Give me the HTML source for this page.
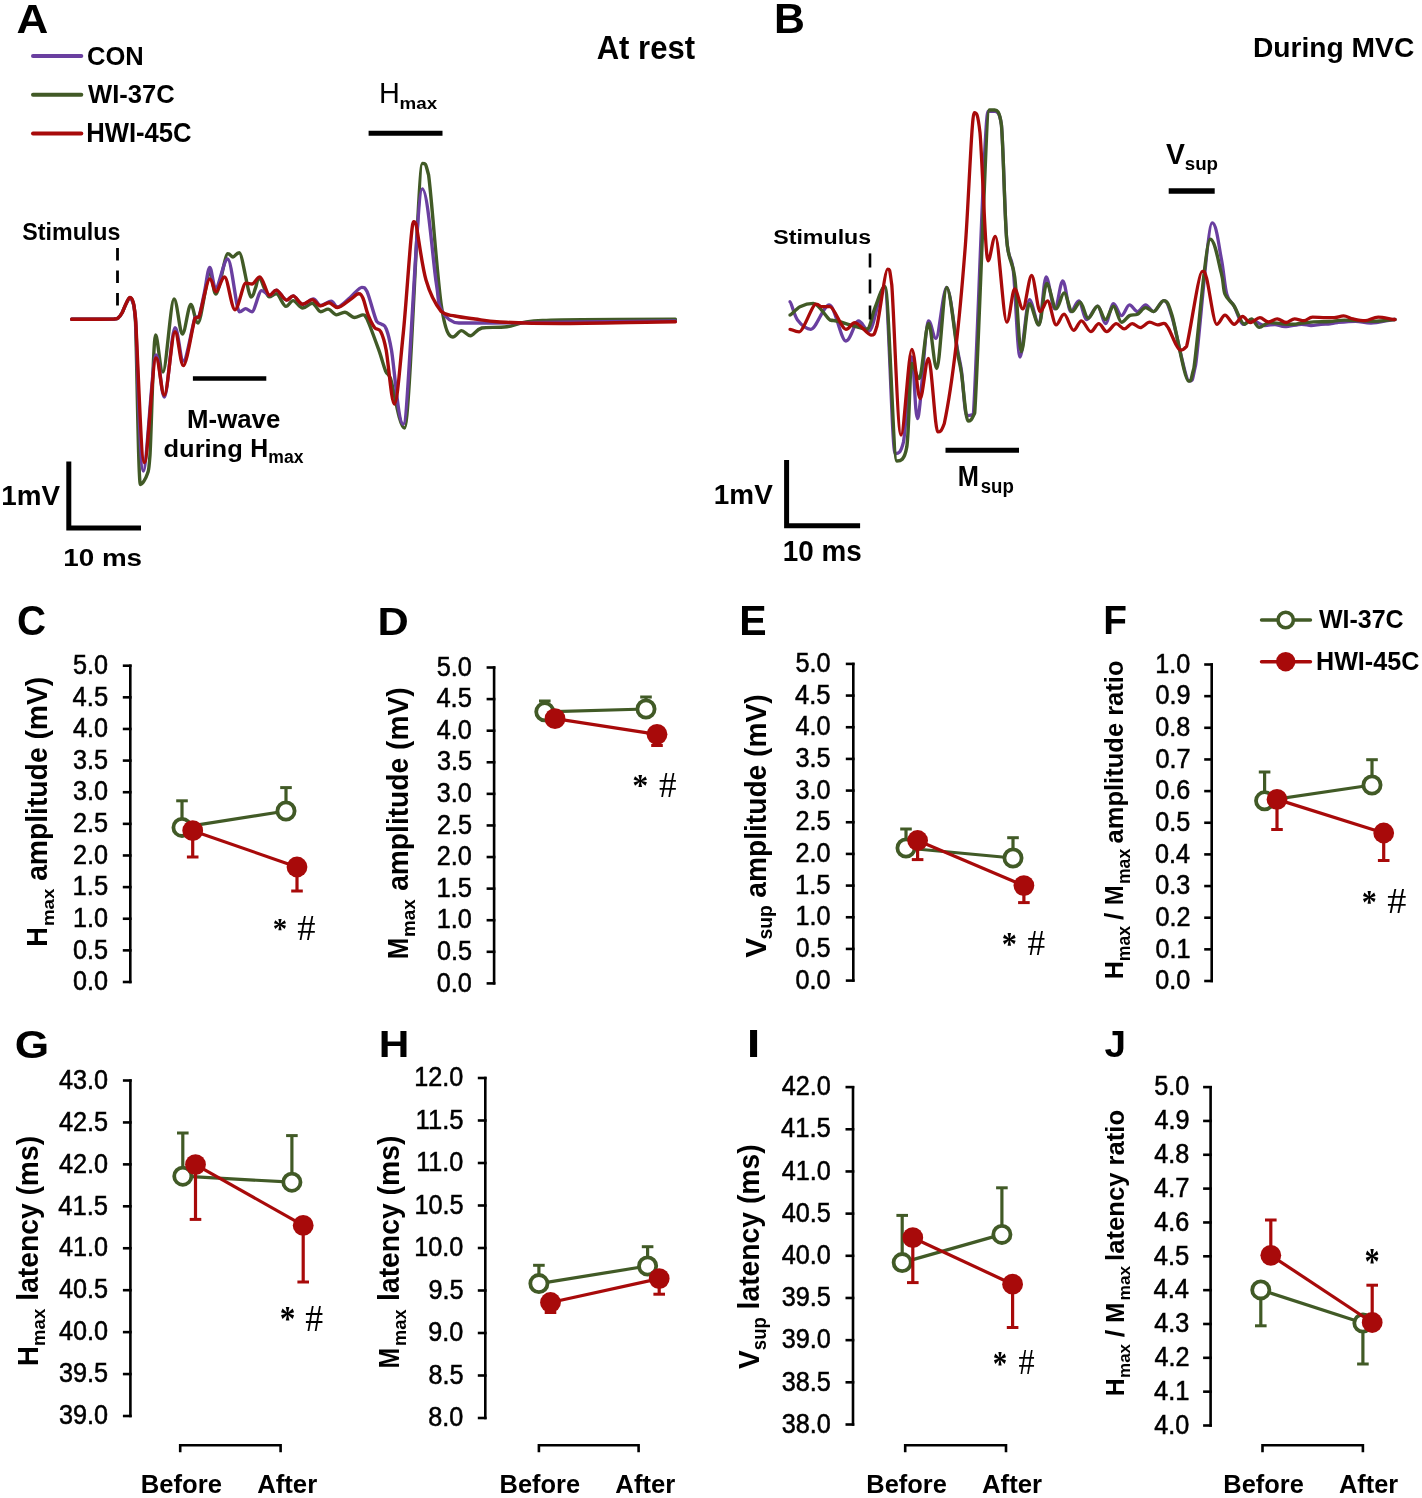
<!DOCTYPE html>
<html><head><meta charset="utf-8"><style>
html,body{margin:0;padding:0;background:#fff;}
svg{display:block;filter:blur(0.45px);}
</style></head><body>
<svg width="1422" height="1498" viewBox="0 0 1422 1498">
<rect width="1422" height="1498" fill="#fff"/>
<path d="M71.6,319.2 C78.7,319.2 106.2,319.2 114.0,319.0 C118.5,318.7 117.2,318.5 118.5,317.5 C119.8,316.5 120.8,315.1 122.0,313.0 C123.2,310.9 124.2,307.5 125.5,305.0 C126.8,302.5 128.5,298.0 129.7,298.0 C130.9,298.0 131.8,298.0 132.8,302.0 C133.8,306.0 134.2,302.0 135.5,322.0 C136.8,352.4 138.4,484.5 140.4,484.5 C142.4,484.5 145.8,478.6 147.4,473.7 C149.0,468.8 148.6,473.7 150.0,455.0 C151.4,431.9 153.4,335.0 155.6,335.0 C157.8,335.0 159.9,372.0 163.0,372.0 C166.1,372.0 170.8,299.0 174.0,299.0 C177.2,299.0 179.6,334.0 182.4,334.0 C185.2,334.0 188.2,304.4 190.8,304.4 C193.4,304.4 194.8,323.0 198.0,323.0 C201.2,323.0 206.8,273.8 209.8,273.8 C212.8,273.8 213.0,294.0 216.0,294.0 C219.0,294.0 224.9,253.8 227.7,253.8 C230.5,253.8 231.1,257.0 233.0,257.0 C234.9,257.0 236.3,252.7 239.3,252.7 C242.3,252.7 248.3,297.0 251.0,297.0 C253.7,297.0 254.1,291.2 255.5,288.0 C256.9,284.8 257.1,278.0 259.4,278.0 C261.6,278.0 266.2,296.9 269.0,296.9 C271.8,296.9 273.6,293.8 276.4,293.8 C279.2,293.8 283.1,306.4 285.9,306.4 C288.7,306.4 290.4,300.6 293.2,300.6 C296.0,300.6 299.5,308.0 302.7,308.0 C305.9,308.0 309.2,303.2 312.2,303.2 C315.2,303.2 318.0,311.7 320.7,311.7 C323.4,311.7 325.5,309.1 328.1,309.1 C330.7,309.1 333.7,314.9 336.5,314.9 C339.3,314.9 341.9,312.2 344.9,312.2 C347.9,312.2 351.4,317.5 354.4,317.5 C357.4,317.5 360.8,314.9 362.9,314.9 C365.0,314.9 364.5,314.9 367.1,319.1 C369.7,324.9 375.6,341.1 378.7,349.7 C381.8,358.3 383.6,366.2 385.6,371.0 C387.6,375.8 387.4,371.0 390.6,378.7 C393.8,388.2 399.3,428.0 404.6,428.0 C409.9,428.0 418.3,163.5 422.3,163.5 C426.3,163.5 425.4,163.5 428.6,175.0 C431.8,198.6 437.3,278.3 441.3,305.3 C445.3,332.3 449.3,337.0 452.7,337.0 C456.1,337.0 458.6,330.6 461.5,330.6 C464.4,330.6 467.0,335.7 470.4,335.7 C473.8,335.7 475.7,329.5 481.8,328.0 C487.9,326.8 496.9,328.0 507.0,326.8 C517.1,325.6 514.4,321.8 542.5,320.5 C570.6,319.2 653.2,319.2 675.4,319.2" fill="none" stroke="#415a26" stroke-width="3.4" stroke-linejoin="round" stroke-linecap="round"/>
<path d="M71.6,319.2 C78.7,319.2 106.2,319.2 114.0,319.0 C118.5,318.7 117.2,318.5 118.5,317.5 C119.8,316.5 120.8,315.1 122.0,313.0 C123.2,310.9 124.2,307.5 125.5,305.0 C126.8,302.5 128.5,298.0 129.7,298.0 C130.9,298.0 131.8,298.5 132.8,302.0 C133.8,305.5 133.8,302.0 135.5,319.0 C137.2,347.2 139.9,471.0 143.3,471.0 C146.7,471.0 152.5,355.0 156.0,355.0 C159.5,355.0 161.2,397.0 164.4,397.0 C167.6,397.0 171.8,327.6 175.0,327.6 C178.2,327.6 180.1,361.0 183.4,361.0 C186.7,361.0 192.4,324.9 195.0,317.5 C197.6,316.5 197.4,317.5 199.0,316.5 C200.6,312.2 202.7,300.2 204.5,292.0 C206.3,283.8 207.9,267.5 209.8,267.5 C211.7,267.5 213.0,287.5 216.0,287.5 C219.0,287.5 223.8,259.0 227.7,259.0 C231.6,259.0 236.3,311.8 239.3,311.8 C242.3,311.8 243.5,308.6 245.6,308.6 C247.7,308.6 249.3,311.8 252.0,311.8 C254.7,311.8 258.7,290.6 261.6,290.6 C264.5,290.6 267.0,295.3 269.5,295.3 C272.0,295.3 273.6,290.1 276.4,290.1 C279.2,290.1 283.6,300.1 286.4,300.1 C289.2,300.1 290.5,295.9 293.2,295.9 C295.9,295.9 299.3,304.3 302.7,304.3 C306.1,304.3 310.3,299.0 313.3,299.0 C316.3,299.0 317.7,305.5 320.7,305.5 C323.7,305.5 328.4,301.1 331.2,301.1 C334.0,301.1 334.4,307.0 337.6,307.0 C340.8,307.0 346.2,300.8 350.2,297.5 C354.2,294.2 359.0,287.4 361.8,287.4 C364.6,287.4 364.6,287.4 367.1,291.6 C369.6,297.2 374.1,315.8 376.6,321.2 C379.1,324.3 380.3,323.1 381.9,324.3 C383.5,325.5 384.5,324.4 386.1,328.6 C387.7,332.8 388.5,333.8 391.4,349.7 C394.3,365.6 398.1,424.3 403.3,424.3 C408.5,424.3 416.8,188.9 422.3,188.9 C427.8,188.9 433.0,262.3 436.2,282.5 C439.4,302.7 437.5,303.2 441.3,310.0 C445.1,316.8 450.6,323.0 459.0,323.0 C467.4,323.0 459.0,323.0 492.0,323.0 C528.1,323.0 644.8,321.0 675.4,321.0" fill="none" stroke="#6a3fa0" stroke-width="3.4" stroke-linejoin="round" stroke-linecap="round"/>
<path d="M71.6,319.2 C78.7,319.2 106.2,319.2 114.0,319.0 C118.5,318.7 117.2,318.5 118.5,317.5 C119.8,316.5 120.8,315.1 122.0,313.0 C123.2,310.9 124.2,307.6 125.5,305.0 C126.8,302.4 128.5,297.4 129.7,297.4 C130.9,297.4 131.8,297.6 132.8,301.0 C133.8,304.4 133.6,301.0 135.5,318.0 C137.4,344.9 141.0,462.6 144.4,462.6 C147.8,462.6 152.7,358.0 156.0,358.0 C159.3,358.0 161.2,395.0 164.4,395.0 C167.6,395.0 171.8,331.8 175.0,331.8 C178.2,331.8 180.1,365.6 183.4,365.6 C186.7,365.6 192.4,326.1 195.0,318.0 C197.6,317.0 196.5,318.0 199.0,317.0 C201.5,310.5 207.0,279.0 209.8,279.0 C212.6,279.0 213.5,291.7 216.0,291.7 C218.5,291.7 221.4,277.0 224.6,277.0 C227.8,277.0 231.5,309.7 235.0,309.7 C238.5,309.7 242.8,283.3 245.6,283.3 C248.4,283.3 249.6,284.0 252.0,284.0 C254.4,284.0 257.1,276.9 260.0,276.9 C262.9,276.9 266.8,295.3 269.5,295.3 C272.2,295.3 273.6,290.1 276.4,290.1 C279.2,290.1 283.6,300.1 286.4,300.1 C289.2,300.1 290.5,295.9 293.2,295.9 C295.9,295.9 299.5,304.3 302.7,304.3 C305.9,304.3 309.2,299.6 312.2,299.6 C315.2,299.6 317.9,305.9 320.7,305.9 C323.5,305.9 326.3,302.7 329.1,302.7 C331.9,302.7 334.1,307.5 337.6,307.5 C341.1,307.5 346.7,301.9 350.2,299.6 C353.7,297.3 356.5,293.8 358.6,293.8 C360.7,293.8 361.3,294.5 362.9,298.0 C364.5,301.5 366.2,310.0 368.1,314.9 C370.0,319.8 372.4,324.7 374.5,327.5 C376.6,330.3 378.9,328.0 380.8,331.7 C382.7,335.4 383.8,337.6 386.1,349.7 C388.4,361.8 391.5,404.0 394.4,404.0 C397.3,404.0 400.1,363.4 403.3,333.0 C406.5,302.6 411.3,221.8 413.4,221.8 C415.5,221.8 413.9,221.8 416.0,224.0 C418.1,233.7 421.8,265.4 426.0,280.0 C430.2,294.6 436.5,305.6 441.3,311.6 C446.1,316.0 449.4,314.8 455.0,316.0 C460.6,317.2 467.5,318.0 475.0,319.0 C482.5,320.0 485.8,321.2 500.0,322.0 C514.2,322.8 530.8,323.5 560.0,323.5 C589.2,323.5 656.2,321.8 675.4,321.8" fill="none" stroke="#a80a0a" stroke-width="3.4" stroke-linejoin="round" stroke-linecap="round"/>
<path d="M790.0,301.7 C791.2,301.7 794.0,315.4 797.5,320.0 C801.0,324.6 805.6,329.3 810.9,329.3 C816.2,329.3 823.4,305.0 829.2,305.0 C835.0,305.0 841.0,341.0 845.9,341.0 C850.8,341.0 854.5,321.0 858.4,321.0 C862.3,321.0 865.0,331.0 869.3,331.0 C873.6,331.0 880.0,286.7 884.3,286.7 C888.6,286.7 891.9,453.6 895.1,453.6 C898.3,453.6 900.7,453.6 903.5,441.9 C906.3,425.8 909.4,356.8 911.8,356.8 C914.1,356.8 914.8,418.5 917.6,418.5 C920.4,418.5 925.4,321.0 928.5,321.0 C931.6,321.0 933.0,338.4 936.0,338.4 C939.0,338.4 943.1,287.5 946.7,287.5 C950.3,287.5 955.0,335.2 957.4,349.0 C959.8,362.8 959.8,359.2 961.4,370.3 C963.0,381.4 964.7,415.7 966.7,415.7 C968.7,415.7 969.9,415.7 973.4,414.3 C976.9,363.6 984.5,111.4 988.0,111.4 C991.5,111.4 992.5,111.4 994.7,111.4 C996.9,111.4 999.4,111.4 1001.4,124.7 C1003.4,146.1 1004.7,215.0 1006.7,239.5 C1008.7,264.0 1011.2,251.9 1013.4,271.5 C1015.6,291.1 1017.4,357.0 1020.1,357.0 C1022.8,357.0 1026.3,299.6 1029.4,299.6 C1032.5,299.6 1036.0,324.9 1038.8,324.9 C1041.6,324.9 1043.5,276.9 1046.2,276.9 C1048.9,276.9 1052.0,308.9 1054.8,308.9 C1057.6,308.9 1060.1,280.9 1062.8,280.9 C1065.5,280.9 1068.1,311.6 1070.8,311.6 C1073.5,311.6 1076.1,300.9 1078.8,300.9 C1081.5,300.9 1083.7,319.6 1086.8,319.6 C1089.9,319.6 1094.4,306.2 1097.5,306.2 C1100.6,306.2 1102.8,323.6 1105.5,323.6 C1108.2,323.6 1110.8,303.6 1113.5,303.6 C1116.2,303.6 1118.8,315.6 1121.5,315.6 C1124.2,315.6 1126.8,304.9 1129.5,304.9 C1132.2,304.9 1134.8,311.6 1137.5,311.6 C1140.2,311.6 1142.9,304.9 1145.6,304.9 C1148.3,304.9 1150.6,311.6 1153.6,311.6 C1156.6,311.6 1160.6,300.6 1163.7,300.6 C1166.8,300.6 1167.7,303.6 1172.0,317.0 C1176.3,330.4 1185.3,381.0 1189.3,381.0 C1193.2,381.0 1191.9,381.0 1195.7,364.6 C1199.5,338.2 1207.9,222.9 1212.2,222.9 C1216.5,222.9 1218.9,246.6 1221.3,258.5 C1223.7,270.4 1224.7,286.3 1226.8,294.2 C1228.9,302.1 1231.3,301.0 1234.1,306.0 C1236.8,311.0 1240.4,324.3 1243.3,324.3 C1246.2,324.3 1247.9,319.8 1251.5,319.8 C1255.1,319.8 1260.8,325.5 1264.7,325.5 C1268.6,325.5 1271.6,324.5 1275.0,324.5 C1278.4,324.5 1280.5,326.7 1285.0,326.7 C1289.5,326.7 1297.4,324.3 1301.7,324.3 C1306.0,324.3 1307.8,325.5 1311.0,325.5 C1314.2,325.5 1317.7,324.6 1320.9,324.3 C1324.1,324.0 1327.2,324.1 1330.0,323.8 C1332.8,323.5 1333.3,322.9 1337.6,322.5 C1341.8,322.1 1349.9,321.3 1355.5,321.3 C1361.1,321.3 1364.4,323.1 1371.0,323.1 C1377.6,323.1 1391.0,319.5 1395.0,319.5" fill="none" stroke="#6a3fa0" stroke-width="3.3" stroke-linejoin="round" stroke-linecap="round"/>
<path d="M790.0,315.0 C791.7,315.0 796.1,308.6 800.0,306.7 C803.9,304.8 808.4,303.4 813.4,303.4 C818.4,303.4 826.1,317.1 830.0,320.0 C833.9,321.0 832.7,320.0 836.7,321.0 C840.7,322.0 849.2,324.6 854.2,326.0 C859.2,327.4 863.3,329.3 866.8,329.3 C870.3,329.3 872.0,314.7 875.0,307.6 C878.0,300.5 881.5,286.7 885.1,286.7 C888.7,286.7 893.2,461.0 896.8,461.0 C900.4,461.0 904.3,461.0 906.8,446.9 C909.3,430.6 909.7,363.5 911.8,363.5 C913.9,363.5 916.5,378.5 919.3,378.5 C922.1,378.5 925.6,323.4 928.5,323.4 C931.4,323.4 933.8,368.5 936.8,368.5 C939.8,368.5 943.3,287.5 946.7,287.5 C950.1,287.5 955.0,337.4 957.4,351.6 C959.8,365.9 959.6,361.4 961.4,373.0 C963.2,384.6 965.8,421.0 968.0,421.0 C970.2,421.0 971.1,421.0 974.7,413.0 C978.3,361.2 986.1,110.0 989.4,110.0 C992.7,110.0 992.7,110.0 994.7,110.0 C996.7,110.0 999.4,110.0 1001.4,124.7 C1003.4,146.3 1004.5,214.1 1006.7,239.5 C1008.9,264.9 1012.2,258.2 1014.7,276.9 C1017.2,295.6 1018.9,351.6 1021.4,351.6 C1023.9,351.6 1026.5,303.6 1029.4,303.6 C1032.3,303.6 1035.9,324.9 1038.8,324.9 C1041.7,324.9 1043.9,283.5 1046.8,283.5 C1049.7,283.5 1053.2,308.9 1056.1,308.9 C1059.0,308.9 1061.4,292.9 1064.1,292.9 C1066.8,292.9 1069.4,311.6 1072.1,311.6 C1074.8,311.6 1077.4,302.2 1080.1,302.2 C1082.8,302.2 1085.3,318.2 1088.2,318.2 C1091.1,318.2 1094.6,306.2 1097.5,306.2 C1100.4,306.2 1102.8,319.6 1105.5,319.6 C1108.2,319.6 1110.8,306.2 1113.5,306.2 C1116.2,306.2 1118.8,322.2 1121.5,322.2 C1124.2,322.2 1126.8,316.9 1129.5,315.6 C1132.2,314.3 1134.8,315.5 1137.5,314.2 C1140.2,312.9 1142.9,307.6 1145.6,307.6 C1148.3,307.6 1150.6,311.6 1153.6,311.6 C1156.6,311.6 1160.6,300.6 1163.7,300.6 C1166.8,300.6 1167.9,301.8 1172.0,315.2 C1176.1,328.6 1184.8,381.0 1188.4,381.0 C1192.1,381.0 1190.2,381.0 1193.9,368.2 C1197.6,344.6 1205.7,239.3 1210.3,239.3 C1214.9,239.3 1218.8,264.0 1221.3,273.1 C1223.8,282.2 1222.9,288.7 1225.0,294.2 C1227.1,299.7 1230.9,301.0 1234.1,306.0 C1237.3,311.0 1241.4,324.3 1244.3,324.3 C1247.2,324.3 1249.0,318.9 1251.5,318.9 C1254.0,318.9 1256.3,327.3 1259.3,327.3 C1262.3,327.3 1265.8,322.5 1269.5,322.5 C1273.2,322.5 1277.4,323.4 1281.4,323.7 C1285.4,324.0 1290.0,324.3 1293.4,324.3 C1296.8,324.3 1298.3,323.5 1301.7,323.1 C1305.1,322.7 1309.0,322.2 1313.7,321.9 C1318.4,321.6 1324.8,321.8 1330.0,321.5 C1335.2,321.2 1337.5,320.1 1344.8,320.1 C1352.0,320.1 1365.1,321.3 1373.5,321.3 C1381.9,321.3 1391.4,319.5 1395.0,319.5" fill="none" stroke="#415a26" stroke-width="3.4" stroke-linejoin="round" stroke-linecap="round"/>
<path d="M790.0,329.3 C791.5,329.3 794.9,331.8 799.2,331.8 C803.5,331.8 812.1,304.2 815.9,304.2 C819.6,304.2 819.4,306.7 821.7,306.7 C824.1,306.7 826.0,306.7 830.0,306.7 C834.0,306.7 841.7,329.3 845.9,329.3 C850.1,329.3 850.8,322.6 855.0,322.6 C859.2,322.6 867.4,335.1 871.0,335.1 C874.6,335.1 874.0,335.1 876.8,326.8 C879.6,315.8 885.1,269.2 887.6,269.2 C890.1,269.2 889.6,269.2 891.8,285.0 C894.0,312.7 897.7,435.2 901.0,435.2 C904.3,435.2 908.6,349.3 911.8,349.3 C915.0,349.3 917.3,398.5 920.1,398.5 C922.9,398.5 925.6,358.5 928.5,358.5 C931.4,358.5 935.1,431.9 937.7,431.9 C940.3,431.9 941.2,431.9 944.3,423.5 C947.3,409.2 952.5,376.1 956.0,346.3 C959.5,316.5 962.4,283.7 965.4,244.8 C968.4,205.9 971.8,112.7 974.2,112.7 C976.6,112.7 977.7,112.7 980.0,132.7 C982.3,157.4 985.4,260.8 988.0,260.8 C990.6,260.8 992.4,236.3 995.5,236.3 C998.6,236.3 1003.5,322.2 1006.7,322.2 C1009.9,322.2 1012.0,288.9 1014.7,288.9 C1017.4,288.9 1020.0,308.9 1022.8,308.9 C1025.6,308.9 1028.7,275.5 1031.6,275.5 C1034.5,275.5 1037.4,311.6 1040.1,311.6 C1042.8,311.6 1044.9,300.9 1047.6,300.9 C1050.3,300.9 1053.3,324.9 1056.1,324.9 C1058.8,324.9 1061.2,314.2 1064.1,314.2 C1067.0,314.2 1070.6,330.3 1073.5,330.3 C1076.4,330.3 1078.6,320.9 1081.5,320.9 C1084.4,320.9 1087.9,331.6 1090.8,331.6 C1093.7,331.6 1096.1,323.6 1098.8,323.6 C1101.5,323.6 1103.9,331.6 1106.8,331.6 C1109.7,331.6 1113.3,323.6 1116.2,323.6 C1119.1,323.6 1121.5,328.9 1124.2,328.9 C1126.9,328.9 1129.5,323.6 1132.2,323.6 C1134.9,323.6 1137.3,327.6 1140.2,327.6 C1143.1,327.6 1146.7,322.2 1149.6,322.2 C1152.5,322.2 1155.2,324.9 1157.6,324.9 C1159.9,324.9 1161.9,323.4 1163.7,323.4 C1165.5,323.4 1165.5,323.6 1168.3,328.0 C1171.0,332.4 1177.2,350.0 1180.2,350.0 C1183.2,350.0 1182.9,350.0 1186.6,346.3 C1190.2,333.2 1198.8,271.3 1202.1,271.3 C1205.4,271.3 1204.3,271.3 1206.7,278.6 C1209.1,287.4 1213.7,324.3 1216.7,324.3 C1219.8,324.3 1222.1,315.2 1225.0,315.2 C1227.9,315.2 1231.3,324.3 1234.2,324.3 C1237.1,324.3 1239.9,316.5 1242.6,316.5 C1245.3,316.5 1247.4,322.5 1250.3,322.5 C1253.2,322.5 1256.9,317.7 1259.9,317.7 C1262.9,317.7 1265.4,321.9 1268.3,321.9 C1271.2,321.9 1274.2,318.9 1277.2,318.9 C1280.2,318.9 1283.3,322.5 1286.2,322.5 C1289.1,322.5 1291.6,318.9 1294.6,318.9 C1297.6,318.9 1301.1,320.7 1304.1,320.7 C1307.1,320.7 1308.9,317.1 1312.5,317.1 C1316.1,317.1 1322.0,317.7 1325.6,317.7 C1329.2,317.7 1331.0,317.7 1334.0,317.7 C1337.0,317.7 1340.4,315.9 1343.6,315.9 C1346.8,315.9 1349.5,318.1 1353.1,318.9 C1356.7,319.7 1360.9,320.7 1365.1,320.7 C1369.3,320.7 1373.2,317.1 1378.2,317.1 C1383.2,317.1 1392.2,319.5 1395.0,319.5" fill="none" stroke="#a80a0a" stroke-width="3.3" stroke-linejoin="round" stroke-linecap="round"/>
<text transform="translate(16.40,33.00) scale(1.0811,1)" font-family="Liberation Sans" font-size="40.73" font-weight="bold" fill="#000">A</text>
<line x1="33" y1="56" x2="81.3" y2="56" stroke="#6a3fa0" stroke-width="4" stroke-linecap="round" />
<line x1="33" y1="94.7" x2="81.3" y2="94.7" stroke="#415a26" stroke-width="4" stroke-linecap="round" />
<line x1="33" y1="133.4" x2="81.3" y2="133.4" stroke="#a80a0a" stroke-width="4" stroke-linecap="round" />
<text transform="translate(86.98,64.50) scale(0.9626,1)" font-family="Liberation Sans" font-size="26.52" font-weight="bold" fill="#000">CON</text>
<text transform="translate(88.00,102.50) scale(0.9643,1)" font-family="Liberation Sans" font-size="26.52" font-weight="bold" fill="#000">WI-37C</text>
<text transform="translate(86.27,142.00) scale(0.9412,1)" font-family="Liberation Sans" font-size="27.24" font-weight="bold" fill="#000">HWI-45C</text>
<text transform="translate(22.30,240.00) scale(0.9911,1)" font-family="Liberation Sans" font-size="23.45" font-weight="bold" fill="#000">Stimulus</text>
<line x1="117.5" y1="247.9" x2="117.5" y2="305.5" stroke="#000" stroke-width="2.8" stroke-dasharray="12.6,9.9"/>
<text transform="translate(596.72,58.60) scale(0.9564,1)" font-family="Liberation Sans" font-size="32.44" font-weight="bold" fill="#000">At rest</text>
<text transform="translate(379.12,102.60) scale(0.9638,1)" font-family="Liberation Sans" font-size="29.96" font-weight="normal" fill="#000">H</text>
<text transform="translate(399.58,108.80) scale(1.0854,1)" font-family="Liberation Sans" font-size="17.30" font-weight="bold" fill="#000">max</text>
<line x1="368.6" y1="133.2" x2="442.5" y2="133.2" stroke="#000" stroke-width="5" stroke-linecap="butt" />
<line x1="192.9" y1="378.6" x2="266.3" y2="378.6" stroke="#000" stroke-width="4.5" stroke-linecap="butt" />
<text transform="translate(187.06,427.60) scale(0.9859,1)" font-family="Liberation Sans" font-size="26.18" font-weight="bold" fill="#000">M-wave</text>
<text transform="translate(163.58,456.80) scale(1.0254,1)" font-family="Liberation Sans" font-size="24.83" font-weight="bold" fill="#000">during</text>
<text transform="translate(250.22,457.00) scale(0.9336,1)" font-family="Liberation Sans" font-size="26.62" font-weight="bold" fill="#000">H</text>
<text transform="translate(268.36,463.40) scale(0.9818,1)" font-family="Liberation Sans" font-size="17.86" font-weight="bold" fill="#000">max</text>
<path d="M68.8,461.5 V527.9 H141" fill="none" stroke="#000" stroke-width="5"/>
<text transform="translate(1.16,505.00) scale(1.0409,1)" font-family="Liberation Sans" font-size="26.76" font-weight="bold" fill="#000">1mV</text>
<text transform="translate(63.26,566.00) scale(1.1279,1)" font-family="Liberation Sans" font-size="24.66" font-weight="bold" fill="#000">10 ms</text>
<text transform="translate(774.01,32.70) scale(1.0179,1)" font-family="Liberation Sans" font-size="42.04" font-weight="bold" fill="#000">B</text>
<text transform="translate(1252.90,56.90) scale(1.0178,1)" font-family="Liberation Sans" font-size="27.72" font-weight="bold" fill="#000">During MVC</text>
<text transform="translate(773.20,244.40) scale(1.1061,1)" font-family="Liberation Sans" font-size="20.97" font-weight="bold" fill="#000">Stimulus</text>
<line x1="870" y1="253.4" x2="870" y2="321" stroke="#000" stroke-width="2.6" stroke-dasharray="14,12"/>
<text transform="translate(1166.09,163.50) scale(0.9508,1)" font-family="Liberation Sans" font-size="29.82" font-weight="bold" fill="#000">V</text>
<text transform="translate(1184.74,169.70) scale(1.0540,1)" font-family="Liberation Sans" font-size="17.78" font-weight="bold" fill="#000">sup</text>
<line x1="1168.7" y1="191" x2="1214.7" y2="191" stroke="#000" stroke-width="5.5" stroke-linecap="butt" />
<line x1="945.5" y1="450.3" x2="1019" y2="450.3" stroke="#000" stroke-width="5" stroke-linecap="butt" />
<text transform="translate(957.68,486.40) scale(0.8874,1)" font-family="Liberation Sans" font-size="28.65" font-weight="bold" fill="#000">M</text>
<text transform="translate(980.75,493.40) scale(0.9576,1)" font-family="Liberation Sans" font-size="19.44" font-weight="bold" fill="#000">sup</text>
<path d="M786.6,459.9 V525.8 H860.1" fill="none" stroke="#000" stroke-width="5"/>
<text transform="translate(713.86,504.30) scale(1.0045,1)" font-family="Liberation Sans" font-size="27.78" font-weight="bold" fill="#000">1mV</text>
<text transform="translate(782.76,561.30) scale(0.9569,1)" font-family="Liberation Sans" font-size="29.10" font-weight="bold" fill="#000">10 ms</text>
<text transform="translate(16.99,635.00) scale(0.9371,1)" font-family="Liberation Sans" font-size="43.01" font-weight="bold" fill="#000">C</text>
<line x1="130.3" y1="664.5" x2="130.3" y2="983.2" stroke="#000" stroke-width="2.6"/>
<line x1="122.80000000000001" y1="665.7" x2="131.60000000000002" y2="665.7" stroke="#000" stroke-width="2.6" stroke-linecap="butt" />
<text transform="translate(73.02,673.90) scale(0.9400,1)" font-family="Liberation Sans" font-size="26.81" font-weight="normal" fill="#000" stroke="#000" stroke-width="0.55">5.0</text>
<line x1="122.80000000000001" y1="697.33" x2="131.60000000000002" y2="697.33" stroke="#000" stroke-width="2.6" stroke-linecap="butt" />
<text transform="translate(72.58,705.53) scale(0.9400,1)" font-family="Liberation Sans" font-size="27.20" font-weight="normal" fill="#000" stroke="#000" stroke-width="0.55">4.5</text>
<line x1="122.80000000000001" y1="728.96" x2="131.60000000000002" y2="728.96" stroke="#000" stroke-width="2.6" stroke-linecap="butt" />
<text transform="translate(73.02,737.16) scale(0.9400,1)" font-family="Liberation Sans" font-size="26.81" font-weight="normal" fill="#000" stroke="#000" stroke-width="0.55">4.0</text>
<line x1="122.80000000000001" y1="760.59" x2="131.60000000000002" y2="760.59" stroke="#000" stroke-width="2.6" stroke-linecap="butt" />
<text transform="translate(73.08,768.79) scale(0.9400,1)" font-family="Liberation Sans" font-size="26.81" font-weight="normal" fill="#000" stroke="#000" stroke-width="0.55">3.5</text>
<line x1="122.80000000000001" y1="792.22" x2="131.60000000000002" y2="792.22" stroke="#000" stroke-width="2.6" stroke-linecap="butt" />
<text transform="translate(73.02,800.42) scale(0.9400,1)" font-family="Liberation Sans" font-size="26.81" font-weight="normal" fill="#000" stroke="#000" stroke-width="0.55">3.0</text>
<line x1="122.80000000000001" y1="823.85" x2="131.60000000000002" y2="823.85" stroke="#000" stroke-width="2.6" stroke-linecap="butt" />
<text transform="translate(73.08,832.05) scale(0.9400,1)" font-family="Liberation Sans" font-size="26.81" font-weight="normal" fill="#000" stroke="#000" stroke-width="0.55">2.5</text>
<line x1="122.80000000000001" y1="855.48" x2="131.60000000000002" y2="855.48" stroke="#000" stroke-width="2.6" stroke-linecap="butt" />
<text transform="translate(73.02,863.68) scale(0.9400,1)" font-family="Liberation Sans" font-size="26.81" font-weight="normal" fill="#000" stroke="#000" stroke-width="0.55">2.0</text>
<line x1="122.80000000000001" y1="887.11" x2="131.60000000000002" y2="887.11" stroke="#000" stroke-width="2.6" stroke-linecap="butt" />
<text transform="translate(72.58,895.31) scale(0.9400,1)" font-family="Liberation Sans" font-size="27.20" font-weight="normal" fill="#000" stroke="#000" stroke-width="0.55">1.5</text>
<line x1="122.80000000000001" y1="918.74" x2="131.60000000000002" y2="918.74" stroke="#000" stroke-width="2.6" stroke-linecap="butt" />
<text transform="translate(73.02,926.94) scale(0.9400,1)" font-family="Liberation Sans" font-size="26.81" font-weight="normal" fill="#000" stroke="#000" stroke-width="0.55">1.0</text>
<line x1="122.80000000000001" y1="950.37" x2="131.60000000000002" y2="950.37" stroke="#000" stroke-width="2.6" stroke-linecap="butt" />
<text transform="translate(73.08,958.57) scale(0.9400,1)" font-family="Liberation Sans" font-size="26.81" font-weight="normal" fill="#000" stroke="#000" stroke-width="0.55">0.5</text>
<line x1="122.80000000000001" y1="982.0" x2="131.60000000000002" y2="982.0" stroke="#000" stroke-width="2.6" stroke-linecap="butt" />
<text transform="translate(73.02,990.20) scale(0.9400,1)" font-family="Liberation Sans" font-size="26.81" font-weight="normal" fill="#000" stroke="#000" stroke-width="0.55">0.0</text>
<g transform="translate(47.40,944.80) rotate(-90)">
<text transform="translate(-1.84,0.00) scale(0.9178,1)" font-family="Liberation Sans" font-size="29.67" font-weight="bold" fill="#000">H</text>
</g>
<g transform="translate(53.70,924.80) rotate(-90)">
<text transform="translate(-1.22,0.00) scale(1.0825,1)" font-family="Liberation Sans" font-size="17.30" font-weight="bold" fill="#000">max</text>
</g>
<g transform="translate(47.40,880.00) rotate(-90)">
<text transform="translate(-0.85,0.00) scale(0.9526,1)" font-family="Liberation Sans" font-size="29.67" font-weight="bold" fill="#000">amplitude (mV)</text>
</g>
<line x1="182" y1="827.4" x2="286" y2="811" stroke="#415a26" stroke-width="3.2" stroke-linecap="butt" />
<line x1="182" y1="827.4" x2="182" y2="800.8" stroke="#415a26" stroke-width="3.2" stroke-linecap="butt" />
<line x1="176.2" y1="800.8" x2="187.8" y2="800.8" stroke="#415a26" stroke-width="3" stroke-linecap="butt" />
<line x1="286" y1="811" x2="286" y2="787.6" stroke="#415a26" stroke-width="3.2" stroke-linecap="butt" />
<line x1="280.2" y1="787.6" x2="291.8" y2="787.6" stroke="#415a26" stroke-width="3" stroke-linecap="butt" />
<circle cx="182" cy="827.4" r="8.6" fill="#fff" stroke="#415a26" stroke-width="3.8"/>
<circle cx="286" cy="811" r="8.6" fill="#fff" stroke="#415a26" stroke-width="3.8"/>
<line x1="192.7" y1="830.7" x2="297" y2="867" stroke="#a80a0a" stroke-width="3.2" stroke-linecap="butt" />
<line x1="192.7" y1="830.7" x2="192.7" y2="857" stroke="#a80a0a" stroke-width="3.2" stroke-linecap="butt" />
<line x1="186.89999999999998" y1="857" x2="198.5" y2="857" stroke="#a80a0a" stroke-width="3" stroke-linecap="butt" />
<line x1="297" y1="867" x2="297" y2="891" stroke="#a80a0a" stroke-width="3.2" stroke-linecap="butt" />
<line x1="291.2" y1="891" x2="302.8" y2="891" stroke="#a80a0a" stroke-width="3" stroke-linecap="butt" />
<circle cx="192.7" cy="830.7" r="10.4" fill="#a80a0a"/>
<circle cx="297" cy="867" r="10.4" fill="#a80a0a"/>
<text transform="translate(272.77,937.73) scale(0.9923,1)" font-family="Liberation Serif" font-size="29.14" font-weight="bold" fill="#000">*</text>
<text transform="translate(297.36,940.00) scale(1.0411,1)" font-family="Liberation Serif" font-size="35.11" font-weight="normal" fill="#000">#</text>
<text transform="translate(377.58,635.00) scale(1.0936,1)" font-family="Liberation Sans" font-size="39.56" font-weight="bold" fill="#000">D</text>
<line x1="494.1" y1="666.3" x2="494.1" y2="984.6" stroke="#000" stroke-width="2.6"/>
<line x1="486.6" y1="667.5" x2="495.40000000000003" y2="667.5" stroke="#000" stroke-width="2.6" stroke-linecap="butt" />
<text transform="translate(436.82,675.70) scale(0.9400,1)" font-family="Liberation Sans" font-size="26.81" font-weight="normal" fill="#000" stroke="#000" stroke-width="0.55">5.0</text>
<line x1="486.6" y1="699.09" x2="495.40000000000003" y2="699.09" stroke="#000" stroke-width="2.6" stroke-linecap="butt" />
<text transform="translate(436.38,707.29) scale(0.9400,1)" font-family="Liberation Sans" font-size="27.20" font-weight="normal" fill="#000" stroke="#000" stroke-width="0.55">4.5</text>
<line x1="486.6" y1="730.68" x2="495.40000000000003" y2="730.68" stroke="#000" stroke-width="2.6" stroke-linecap="butt" />
<text transform="translate(436.82,738.88) scale(0.9400,1)" font-family="Liberation Sans" font-size="26.81" font-weight="normal" fill="#000" stroke="#000" stroke-width="0.55">4.0</text>
<line x1="486.6" y1="762.27" x2="495.40000000000003" y2="762.27" stroke="#000" stroke-width="2.6" stroke-linecap="butt" />
<text transform="translate(436.88,770.47) scale(0.9400,1)" font-family="Liberation Sans" font-size="26.81" font-weight="normal" fill="#000" stroke="#000" stroke-width="0.55">3.5</text>
<line x1="486.6" y1="793.86" x2="495.40000000000003" y2="793.86" stroke="#000" stroke-width="2.6" stroke-linecap="butt" />
<text transform="translate(436.82,802.06) scale(0.9400,1)" font-family="Liberation Sans" font-size="26.81" font-weight="normal" fill="#000" stroke="#000" stroke-width="0.55">3.0</text>
<line x1="486.6" y1="825.45" x2="495.40000000000003" y2="825.45" stroke="#000" stroke-width="2.6" stroke-linecap="butt" />
<text transform="translate(436.88,833.65) scale(0.9400,1)" font-family="Liberation Sans" font-size="26.81" font-weight="normal" fill="#000" stroke="#000" stroke-width="0.55">2.5</text>
<line x1="486.6" y1="857.04" x2="495.40000000000003" y2="857.04" stroke="#000" stroke-width="2.6" stroke-linecap="butt" />
<text transform="translate(436.82,865.24) scale(0.9400,1)" font-family="Liberation Sans" font-size="26.81" font-weight="normal" fill="#000" stroke="#000" stroke-width="0.55">2.0</text>
<line x1="486.6" y1="888.63" x2="495.40000000000003" y2="888.63" stroke="#000" stroke-width="2.6" stroke-linecap="butt" />
<text transform="translate(436.38,896.83) scale(0.9400,1)" font-family="Liberation Sans" font-size="27.20" font-weight="normal" fill="#000" stroke="#000" stroke-width="0.55">1.5</text>
<line x1="486.6" y1="920.22" x2="495.40000000000003" y2="920.22" stroke="#000" stroke-width="2.6" stroke-linecap="butt" />
<text transform="translate(436.82,928.42) scale(0.9400,1)" font-family="Liberation Sans" font-size="26.81" font-weight="normal" fill="#000" stroke="#000" stroke-width="0.55">1.0</text>
<line x1="486.6" y1="951.81" x2="495.40000000000003" y2="951.81" stroke="#000" stroke-width="2.6" stroke-linecap="butt" />
<text transform="translate(436.88,960.01) scale(0.9400,1)" font-family="Liberation Sans" font-size="26.81" font-weight="normal" fill="#000" stroke="#000" stroke-width="0.55">0.5</text>
<line x1="486.6" y1="983.4" x2="495.40000000000003" y2="983.4" stroke="#000" stroke-width="2.6" stroke-linecap="butt" />
<text transform="translate(436.82,991.60) scale(0.9400,1)" font-family="Liberation Sans" font-size="26.81" font-weight="normal" fill="#000" stroke="#000" stroke-width="0.55">0.0</text>
<g transform="translate(407.70,957.50) rotate(-90)">
<text transform="translate(-1.75,0.00) scale(0.8888,1)" font-family="Liberation Sans" font-size="29.09" font-weight="bold" fill="#000">M</text>
</g>
<g transform="translate(414.70,935.80) rotate(-90)">
<text transform="translate(-1.23,0.00) scale(1.0150,1)" font-family="Liberation Sans" font-size="18.60" font-weight="bold" fill="#000">max</text>
</g>
<g transform="translate(407.70,890.00) rotate(-90)">
<text transform="translate(-0.85,0.00) scale(0.9693,1)" font-family="Liberation Sans" font-size="29.09" font-weight="bold" fill="#000">amplitude (mV)</text>
</g>
<line x1="544.8" y1="711.8" x2="646" y2="709" stroke="#415a26" stroke-width="3.2" stroke-linecap="butt" />
<line x1="544.8" y1="711.8" x2="544.8" y2="701" stroke="#415a26" stroke-width="3.2" stroke-linecap="butt" />
<line x1="539.0" y1="701" x2="550.5999999999999" y2="701" stroke="#415a26" stroke-width="3" stroke-linecap="butt" />
<line x1="646" y1="709" x2="646" y2="697" stroke="#415a26" stroke-width="3.2" stroke-linecap="butt" />
<line x1="640.2" y1="697" x2="651.8" y2="697" stroke="#415a26" stroke-width="3" stroke-linecap="butt" />
<circle cx="544.8" cy="711.8" r="8.6" fill="#fff" stroke="#415a26" stroke-width="3.8"/>
<circle cx="646" cy="709" r="8.6" fill="#fff" stroke="#415a26" stroke-width="3.8"/>
<line x1="555" y1="718.7" x2="657" y2="734.3" stroke="#a80a0a" stroke-width="3.2" stroke-linecap="butt" />
<line x1="657" y1="734.3" x2="657" y2="745.5" stroke="#a80a0a" stroke-width="3.2" stroke-linecap="butt" />
<line x1="651.2" y1="745.5" x2="662.8" y2="745.5" stroke="#a80a0a" stroke-width="3" stroke-linecap="butt" />
<circle cx="555" cy="718.7" r="10.4" fill="#a80a0a"/>
<circle cx="657" cy="734.3" r="10.4" fill="#a80a0a"/>
<text transform="translate(632.34,796.13) scale(0.9917,1)" font-family="Liberation Serif" font-size="32.32" font-weight="bold" fill="#000">*</text>
<text transform="translate(659.09,796.70) scale(0.9688,1)" font-family="Liberation Serif" font-size="36.18" font-weight="normal" fill="#000">#</text>
<text transform="translate(739.23,635.00) scale(0.9873,1)" font-family="Liberation Sans" font-size="41.60" font-weight="bold" fill="#000">E</text>
<line x1="853.3" y1="662.6999999999999" x2="853.3" y2="981.8000000000001" stroke="#000" stroke-width="2.6"/>
<line x1="845.8" y1="663.9" x2="854.5999999999999" y2="663.9" stroke="#000" stroke-width="2.6" stroke-linecap="butt" />
<text transform="translate(795.42,672.10) scale(0.9400,1)" font-family="Liberation Sans" font-size="26.81" font-weight="normal" fill="#000" stroke="#000" stroke-width="0.55">5.0</text>
<line x1="845.8" y1="695.5699999999999" x2="854.5999999999999" y2="695.5699999999999" stroke="#000" stroke-width="2.6" stroke-linecap="butt" />
<text transform="translate(794.98,703.77) scale(0.9400,1)" font-family="Liberation Sans" font-size="27.20" font-weight="normal" fill="#000" stroke="#000" stroke-width="0.55">4.5</text>
<line x1="845.8" y1="727.24" x2="854.5999999999999" y2="727.24" stroke="#000" stroke-width="2.6" stroke-linecap="butt" />
<text transform="translate(795.42,735.44) scale(0.9400,1)" font-family="Liberation Sans" font-size="26.81" font-weight="normal" fill="#000" stroke="#000" stroke-width="0.55">4.0</text>
<line x1="845.8" y1="758.91" x2="854.5999999999999" y2="758.91" stroke="#000" stroke-width="2.6" stroke-linecap="butt" />
<text transform="translate(795.48,767.11) scale(0.9400,1)" font-family="Liberation Sans" font-size="26.81" font-weight="normal" fill="#000" stroke="#000" stroke-width="0.55">3.5</text>
<line x1="845.8" y1="790.58" x2="854.5999999999999" y2="790.58" stroke="#000" stroke-width="2.6" stroke-linecap="butt" />
<text transform="translate(795.42,798.78) scale(0.9400,1)" font-family="Liberation Sans" font-size="26.81" font-weight="normal" fill="#000" stroke="#000" stroke-width="0.55">3.0</text>
<line x1="845.8" y1="822.25" x2="854.5999999999999" y2="822.25" stroke="#000" stroke-width="2.6" stroke-linecap="butt" />
<text transform="translate(795.48,830.45) scale(0.9400,1)" font-family="Liberation Sans" font-size="26.81" font-weight="normal" fill="#000" stroke="#000" stroke-width="0.55">2.5</text>
<line x1="845.8" y1="853.9200000000001" x2="854.5999999999999" y2="853.9200000000001" stroke="#000" stroke-width="2.6" stroke-linecap="butt" />
<text transform="translate(795.42,862.12) scale(0.9400,1)" font-family="Liberation Sans" font-size="26.81" font-weight="normal" fill="#000" stroke="#000" stroke-width="0.55">2.0</text>
<line x1="845.8" y1="885.59" x2="854.5999999999999" y2="885.59" stroke="#000" stroke-width="2.6" stroke-linecap="butt" />
<text transform="translate(794.98,893.79) scale(0.9400,1)" font-family="Liberation Sans" font-size="27.20" font-weight="normal" fill="#000" stroke="#000" stroke-width="0.55">1.5</text>
<line x1="845.8" y1="917.26" x2="854.5999999999999" y2="917.26" stroke="#000" stroke-width="2.6" stroke-linecap="butt" />
<text transform="translate(795.42,925.46) scale(0.9400,1)" font-family="Liberation Sans" font-size="26.81" font-weight="normal" fill="#000" stroke="#000" stroke-width="0.55">1.0</text>
<line x1="845.8" y1="948.9300000000001" x2="854.5999999999999" y2="948.9300000000001" stroke="#000" stroke-width="2.6" stroke-linecap="butt" />
<text transform="translate(795.48,957.13) scale(0.9400,1)" font-family="Liberation Sans" font-size="26.81" font-weight="normal" fill="#000" stroke="#000" stroke-width="0.55">0.5</text>
<line x1="845.8" y1="980.6" x2="854.5999999999999" y2="980.6" stroke="#000" stroke-width="2.6" stroke-linecap="butt" />
<text transform="translate(795.42,988.80) scale(0.9400,1)" font-family="Liberation Sans" font-size="26.81" font-weight="normal" fill="#000" stroke="#000" stroke-width="0.55">0.0</text>
<g transform="translate(765.50,957.50) rotate(-90)">
<text transform="translate(-0.22,0.00) scale(1.0072,1)" font-family="Liberation Sans" font-size="29.67" font-weight="bold" fill="#000">V</text>
</g>
<g transform="translate(772.40,938.90) rotate(-90)">
<text transform="translate(-0.68,0.00) scale(0.9999,1)" font-family="Liberation Sans" font-size="19.44" font-weight="bold" fill="#000">sup</text>
</g>
<g transform="translate(765.50,896.80) rotate(-90)">
<text transform="translate(-0.84,0.00) scale(0.9484,1)" font-family="Liberation Sans" font-size="29.67" font-weight="bold" fill="#000">amplitude (mV)</text>
</g>
<line x1="906" y1="848" x2="1013" y2="858" stroke="#415a26" stroke-width="3.2" stroke-linecap="butt" />
<line x1="906" y1="848" x2="906" y2="829" stroke="#415a26" stroke-width="3.2" stroke-linecap="butt" />
<line x1="900.2" y1="829" x2="911.8" y2="829" stroke="#415a26" stroke-width="3" stroke-linecap="butt" />
<line x1="1013" y1="858" x2="1013" y2="837.7" stroke="#415a26" stroke-width="3.2" stroke-linecap="butt" />
<line x1="1007.2" y1="837.7" x2="1018.8" y2="837.7" stroke="#415a26" stroke-width="3" stroke-linecap="butt" />
<circle cx="906" cy="848" r="8.6" fill="#fff" stroke="#415a26" stroke-width="3.8"/>
<circle cx="1013" cy="858" r="8.6" fill="#fff" stroke="#415a26" stroke-width="3.8"/>
<line x1="917.6" y1="840.5" x2="1023.9" y2="885.6" stroke="#a80a0a" stroke-width="3.2" stroke-linecap="butt" />
<line x1="917.6" y1="840.5" x2="917.6" y2="859.6" stroke="#a80a0a" stroke-width="3.2" stroke-linecap="butt" />
<line x1="911.8000000000001" y1="859.6" x2="923.4" y2="859.6" stroke="#a80a0a" stroke-width="3" stroke-linecap="butt" />
<line x1="1023.9" y1="885.6" x2="1023.9" y2="902.6" stroke="#a80a0a" stroke-width="3.2" stroke-linecap="butt" />
<line x1="1018.1" y1="902.6" x2="1029.7" y2="902.6" stroke="#a80a0a" stroke-width="3" stroke-linecap="butt" />
<circle cx="917.6" cy="840.5" r="10.4" fill="#a80a0a"/>
<circle cx="1023.9" cy="885.6" r="10.4" fill="#a80a0a"/>
<text transform="translate(1001.71,955.28) scale(0.9243,1)" font-family="Liberation Serif" font-size="32.85" font-weight="bold" fill="#000">*</text>
<text transform="translate(1027.38,955.00) scale(1.0044,1)" font-family="Liberation Serif" font-size="35.11" font-weight="normal" fill="#000">#</text>
<text transform="translate(1103.18,634.30) scale(0.9397,1)" font-family="Liberation Sans" font-size="41.31" font-weight="bold" fill="#000">F</text>
<line x1="1211.7" y1="663.3" x2="1211.7" y2="982.2" stroke="#000" stroke-width="2.6"/>
<line x1="1204.2" y1="664.5" x2="1213.0" y2="664.5" stroke="#000" stroke-width="2.6" stroke-linecap="butt" />
<text transform="translate(1155.22,672.70) scale(0.9400,1)" font-family="Liberation Sans" font-size="26.81" font-weight="normal" fill="#000" stroke="#000" stroke-width="0.55">1.0</text>
<line x1="1204.2" y1="696.15" x2="1213.0" y2="696.15" stroke="#000" stroke-width="2.6" stroke-linecap="butt" />
<text transform="translate(1155.40,704.35) scale(0.9400,1)" font-family="Liberation Sans" font-size="26.81" font-weight="normal" fill="#000" stroke="#000" stroke-width="0.55">0.9</text>
<line x1="1204.2" y1="727.8" x2="1213.0" y2="727.8" stroke="#000" stroke-width="2.6" stroke-linecap="butt" />
<text transform="translate(1155.34,736.00) scale(0.9400,1)" font-family="Liberation Sans" font-size="26.81" font-weight="normal" fill="#000" stroke="#000" stroke-width="0.55">0.8</text>
<line x1="1204.2" y1="759.45" x2="1213.0" y2="759.45" stroke="#000" stroke-width="2.6" stroke-linecap="butt" />
<text transform="translate(1155.53,767.65) scale(0.9400,1)" font-family="Liberation Sans" font-size="26.81" font-weight="normal" fill="#000" stroke="#000" stroke-width="0.55">0.7</text>
<line x1="1204.2" y1="791.1" x2="1213.0" y2="791.1" stroke="#000" stroke-width="2.6" stroke-linecap="butt" />
<text transform="translate(1155.34,799.30) scale(0.9400,1)" font-family="Liberation Sans" font-size="26.81" font-weight="normal" fill="#000" stroke="#000" stroke-width="0.55">0.6</text>
<line x1="1204.2" y1="822.75" x2="1213.0" y2="822.75" stroke="#000" stroke-width="2.6" stroke-linecap="butt" />
<text transform="translate(1155.28,830.95) scale(0.9400,1)" font-family="Liberation Sans" font-size="26.81" font-weight="normal" fill="#000" stroke="#000" stroke-width="0.55">0.5</text>
<line x1="1204.2" y1="854.4" x2="1213.0" y2="854.4" stroke="#000" stroke-width="2.6" stroke-linecap="butt" />
<text transform="translate(1154.96,862.60) scale(0.9400,1)" font-family="Liberation Sans" font-size="26.81" font-weight="normal" fill="#000" stroke="#000" stroke-width="0.55">0.4</text>
<line x1="1204.2" y1="886.05" x2="1213.0" y2="886.05" stroke="#000" stroke-width="2.6" stroke-linecap="butt" />
<text transform="translate(1155.34,894.25) scale(0.9400,1)" font-family="Liberation Sans" font-size="26.81" font-weight="normal" fill="#000" stroke="#000" stroke-width="0.55">0.3</text>
<line x1="1204.2" y1="917.7" x2="1213.0" y2="917.7" stroke="#000" stroke-width="2.6" stroke-linecap="butt" />
<text transform="translate(1155.53,925.90) scale(0.9400,1)" font-family="Liberation Sans" font-size="26.81" font-weight="normal" fill="#000" stroke="#000" stroke-width="0.55">0.2</text>
<line x1="1204.2" y1="949.35" x2="1213.0" y2="949.35" stroke="#000" stroke-width="2.6" stroke-linecap="butt" />
<text transform="translate(1155.47,957.55) scale(0.9400,1)" font-family="Liberation Sans" font-size="26.81" font-weight="normal" fill="#000" stroke="#000" stroke-width="0.55">0.1</text>
<line x1="1204.2" y1="981.0" x2="1213.0" y2="981.0" stroke="#000" stroke-width="2.6" stroke-linecap="butt" />
<text transform="translate(1155.22,989.20) scale(0.9400,1)" font-family="Liberation Sans" font-size="26.81" font-weight="normal" fill="#000" stroke="#000" stroke-width="0.55">0.0</text>
<g transform="translate(1122.80,977.60) rotate(-90)">
<text transform="translate(-1.69,0.00) scale(0.9452,1)" font-family="Liberation Sans" font-size="26.47" font-weight="bold" fill="#000">H</text>
</g>
<g transform="translate(1129.60,960.00) rotate(-90)">
<text transform="translate(-1.15,0.00) scale(0.9876,1)" font-family="Liberation Sans" font-size="17.86" font-weight="bold" fill="#000">max</text>
</g>
<g transform="translate(1122.80,919.80) rotate(-90)">
<text transform="translate(-0.26,0.00) scale(0.9975,1)" font-family="Liberation Sans" font-size="26.47" font-weight="bold" fill="#000">/</text>
</g>
<g transform="translate(1122.80,903.30) rotate(-90)">
<text transform="translate(-1.58,0.00) scale(0.8850,1)" font-family="Liberation Sans" font-size="26.47" font-weight="bold" fill="#000">M</text>
</g>
<g transform="translate(1129.60,882.90) rotate(-90)">
<text transform="translate(-1.15,0.00) scale(0.9876,1)" font-family="Liberation Sans" font-size="17.86" font-weight="bold" fill="#000">max</text>
</g>
<g transform="translate(1122.80,842.70) rotate(-90)">
<text transform="translate(-0.77,0.00) scale(0.9646,1)" font-family="Liberation Sans" font-size="26.47" font-weight="bold" fill="#000">amplitude ratio</text>
</g>
<line x1="1264.6" y1="800.8" x2="1372" y2="785" stroke="#415a26" stroke-width="3.2" stroke-linecap="butt" />
<line x1="1264.6" y1="800.8" x2="1264.6" y2="772" stroke="#415a26" stroke-width="3.2" stroke-linecap="butt" />
<line x1="1258.8" y1="772" x2="1270.3999999999999" y2="772" stroke="#415a26" stroke-width="3" stroke-linecap="butt" />
<line x1="1372" y1="785" x2="1372" y2="759.7" stroke="#415a26" stroke-width="3.2" stroke-linecap="butt" />
<line x1="1366.2" y1="759.7" x2="1377.8" y2="759.7" stroke="#415a26" stroke-width="3" stroke-linecap="butt" />
<circle cx="1264.6" cy="800.8" r="8.6" fill="#fff" stroke="#415a26" stroke-width="3.8"/>
<circle cx="1372" cy="785" r="8.6" fill="#fff" stroke="#415a26" stroke-width="3.8"/>
<line x1="1277" y1="799.4" x2="1383.7" y2="833" stroke="#a80a0a" stroke-width="3.2" stroke-linecap="butt" />
<line x1="1277" y1="799.4" x2="1277" y2="829.5" stroke="#a80a0a" stroke-width="3.2" stroke-linecap="butt" />
<line x1="1271.2" y1="829.5" x2="1282.8" y2="829.5" stroke="#a80a0a" stroke-width="3" stroke-linecap="butt" />
<line x1="1383.7" y1="833" x2="1383.7" y2="860.5" stroke="#a80a0a" stroke-width="3.2" stroke-linecap="butt" />
<line x1="1377.9" y1="860.5" x2="1389.5" y2="860.5" stroke="#a80a0a" stroke-width="3" stroke-linecap="butt" />
<circle cx="1277" cy="799.4" r="10.4" fill="#a80a0a"/>
<circle cx="1383.7" cy="833" r="10.4" fill="#a80a0a"/>
<text transform="translate(1361.72,912.85) scale(0.9096,1)" font-family="Liberation Serif" font-size="33.11" font-weight="bold" fill="#000">*</text>
<text transform="translate(1387.13,913.00) scale(1.0807,1)" font-family="Liberation Serif" font-size="35.42" font-weight="normal" fill="#000">#</text>
<line x1="1261.5" y1="620" x2="1310.5" y2="620" stroke="#415a26" stroke-width="3.4" stroke-linecap="round" />
<circle cx="1285.7" cy="620" r="7.7" fill="#fff" stroke="#415a26" stroke-width="3.6"/>
<text transform="translate(1318.90,627.80) scale(0.9969,1)" font-family="Liberation Sans" font-size="25.09" font-weight="bold" fill="#000">WI-37C</text>
<line x1="1261.5" y1="661.7" x2="1310.5" y2="661.7" stroke="#a80a0a" stroke-width="3.4" stroke-linecap="round" />
<circle cx="1285.7" cy="661.7" r="9.7" fill="#a80a0a"/>
<text transform="translate(1316.00,669.60) scale(0.9635,1)" font-family="Liberation Sans" font-size="26.09" font-weight="bold" fill="#000">HWI-45C</text>
<text transform="translate(14.83,1058.20) scale(1.1615,1)" font-family="Liberation Sans" font-size="38.14" font-weight="bold" fill="#000">G</text>
<line x1="130.4" y1="1079.3" x2="130.4" y2="1417.2" stroke="#000" stroke-width="2.6"/>
<line x1="122.9" y1="1080.5" x2="131.70000000000002" y2="1080.5" stroke="#000" stroke-width="2.6" stroke-linecap="butt" />
<text transform="translate(58.93,1088.70) scale(0.9400,1)" font-family="Liberation Sans" font-size="26.81" font-weight="normal" fill="#000" stroke="#000" stroke-width="0.55">43.0</text>
<line x1="122.9" y1="1122.4375" x2="131.70000000000002" y2="1122.4375" stroke="#000" stroke-width="2.6" stroke-linecap="butt" />
<text transform="translate(58.99,1130.64) scale(0.9400,1)" font-family="Liberation Sans" font-size="26.81" font-weight="normal" fill="#000" stroke="#000" stroke-width="0.55">42.5</text>
<line x1="122.9" y1="1164.375" x2="131.70000000000002" y2="1164.375" stroke="#000" stroke-width="2.6" stroke-linecap="butt" />
<text transform="translate(58.93,1172.58) scale(0.9400,1)" font-family="Liberation Sans" font-size="26.81" font-weight="normal" fill="#000" stroke="#000" stroke-width="0.55">42.0</text>
<line x1="122.9" y1="1206.3125" x2="131.70000000000002" y2="1206.3125" stroke="#000" stroke-width="2.6" stroke-linecap="butt" />
<text transform="translate(58.29,1214.51) scale(0.9400,1)" font-family="Liberation Sans" font-size="27.20" font-weight="normal" fill="#000" stroke="#000" stroke-width="0.55">41.5</text>
<line x1="122.9" y1="1248.25" x2="131.70000000000002" y2="1248.25" stroke="#000" stroke-width="2.6" stroke-linecap="butt" />
<text transform="translate(58.93,1256.45) scale(0.9400,1)" font-family="Liberation Sans" font-size="26.81" font-weight="normal" fill="#000" stroke="#000" stroke-width="0.55">41.0</text>
<line x1="122.9" y1="1290.1875" x2="131.70000000000002" y2="1290.1875" stroke="#000" stroke-width="2.6" stroke-linecap="butt" />
<text transform="translate(58.99,1298.39) scale(0.9400,1)" font-family="Liberation Sans" font-size="26.81" font-weight="normal" fill="#000" stroke="#000" stroke-width="0.55">40.5</text>
<line x1="122.9" y1="1332.125" x2="131.70000000000002" y2="1332.125" stroke="#000" stroke-width="2.6" stroke-linecap="butt" />
<text transform="translate(58.93,1340.33) scale(0.9400,1)" font-family="Liberation Sans" font-size="26.81" font-weight="normal" fill="#000" stroke="#000" stroke-width="0.55">40.0</text>
<line x1="122.9" y1="1374.0625" x2="131.70000000000002" y2="1374.0625" stroke="#000" stroke-width="2.6" stroke-linecap="butt" />
<text transform="translate(58.99,1382.26) scale(0.9400,1)" font-family="Liberation Sans" font-size="26.81" font-weight="normal" fill="#000" stroke="#000" stroke-width="0.55">39.5</text>
<line x1="122.9" y1="1416.0" x2="131.70000000000002" y2="1416.0" stroke="#000" stroke-width="2.6" stroke-linecap="butt" />
<text transform="translate(58.93,1424.20) scale(0.9400,1)" font-family="Liberation Sans" font-size="26.81" font-weight="normal" fill="#000" stroke="#000" stroke-width="0.55">39.0</text>
<g transform="translate(38.00,1364.20) rotate(-90)">
<text transform="translate(-1.86,0.00) scale(0.9574,1)" font-family="Liberation Sans" font-size="28.80" font-weight="bold" fill="#000">H</text>
</g>
<g transform="translate(44.90,1344.70) rotate(-90)">
<text transform="translate(-1.21,0.00) scale(0.9787,1)" font-family="Liberation Sans" font-size="18.98" font-weight="bold" fill="#000">max</text>
</g>
<g transform="translate(38.00,1298.70) rotate(-90)">
<text transform="translate(-1.98,0.00) scale(0.9806,1)" font-family="Liberation Sans" font-size="28.80" font-weight="bold" fill="#000">latency (ms)</text>
</g>
<line x1="182.8" y1="1176.2" x2="291.9" y2="1182.2" stroke="#415a26" stroke-width="3.2" stroke-linecap="butt" />
<line x1="182.8" y1="1176.2" x2="182.8" y2="1133" stroke="#415a26" stroke-width="3.2" stroke-linecap="butt" />
<line x1="177.0" y1="1133" x2="188.60000000000002" y2="1133" stroke="#415a26" stroke-width="3" stroke-linecap="butt" />
<line x1="291.9" y1="1182.2" x2="291.9" y2="1135.6" stroke="#415a26" stroke-width="3.2" stroke-linecap="butt" />
<line x1="286.09999999999997" y1="1135.6" x2="297.7" y2="1135.6" stroke="#415a26" stroke-width="3" stroke-linecap="butt" />
<circle cx="182.8" cy="1176.2" r="8.6" fill="#fff" stroke="#415a26" stroke-width="3.8"/>
<circle cx="291.9" cy="1182.2" r="8.6" fill="#fff" stroke="#415a26" stroke-width="3.8"/>
<line x1="195.5" y1="1164.6" x2="303.2" y2="1225.4" stroke="#a80a0a" stroke-width="3.2" stroke-linecap="butt" />
<line x1="195.5" y1="1164.6" x2="195.5" y2="1219.4" stroke="#a80a0a" stroke-width="3.2" stroke-linecap="butt" />
<line x1="189.7" y1="1219.4" x2="201.3" y2="1219.4" stroke="#a80a0a" stroke-width="3" stroke-linecap="butt" />
<line x1="303.2" y1="1225.4" x2="303.2" y2="1282" stroke="#a80a0a" stroke-width="3.2" stroke-linecap="butt" />
<line x1="297.4" y1="1282" x2="309.0" y2="1282" stroke="#a80a0a" stroke-width="3" stroke-linecap="butt" />
<circle cx="195.5" cy="1164.6" r="10.4" fill="#a80a0a"/>
<circle cx="303.2" cy="1225.4" r="10.4" fill="#a80a0a"/>
<text transform="translate(279.67,1330.75) scale(0.8891,1)" font-family="Liberation Serif" font-size="35.23" font-weight="bold" fill="#000">*</text>
<text transform="translate(305.28,1330.80) scale(0.9391,1)" font-family="Liberation Serif" font-size="38.02" font-weight="normal" fill="#000">#</text>
<path d="M180.2,1452.3 V1445.2 H280.6 V1452.3" fill="none" stroke="#000" stroke-width="2.6"/>
<text transform="translate(140.77,1492.50) scale(1.0220,1)" font-family="Liberation Sans" font-size="25.10" font-weight="bold" fill="#000">Before</text>
<text transform="translate(257.16,1492.50) scale(1.0258,1)" font-family="Liberation Sans" font-size="25.10" font-weight="bold" fill="#000">After</text>
<text transform="translate(378.74,1057.20) scale(1.1382,1)" font-family="Liberation Sans" font-size="37.24" font-weight="bold" fill="#000">H</text>
<line x1="485.3" y1="1076.8" x2="485.3" y2="1419.2" stroke="#000" stroke-width="2.6"/>
<line x1="477.8" y1="1078.0" x2="486.6" y2="1078.0" stroke="#000" stroke-width="2.6" stroke-linecap="butt" />
<text transform="translate(414.33,1086.20) scale(0.9400,1)" font-family="Liberation Sans" font-size="26.81" font-weight="normal" fill="#000" stroke="#000" stroke-width="0.55">12.0</text>
<line x1="477.8" y1="1120.5" x2="486.6" y2="1120.5" stroke="#000" stroke-width="2.6" stroke-linecap="butt" />
<text transform="translate(415.61,1128.70) scale(0.9400,1)" font-family="Liberation Sans" font-size="27.20" font-weight="normal" fill="#000" stroke="#000" stroke-width="0.55">11.5</text>
<line x1="477.8" y1="1163.0" x2="486.6" y2="1163.0" stroke="#000" stroke-width="2.6" stroke-linecap="butt" />
<text transform="translate(416.22,1171.20) scale(0.9400,1)" font-family="Liberation Sans" font-size="26.81" font-weight="normal" fill="#000" stroke="#000" stroke-width="0.55">11.0</text>
<line x1="477.8" y1="1205.5" x2="486.6" y2="1205.5" stroke="#000" stroke-width="2.6" stroke-linecap="butt" />
<text transform="translate(414.39,1213.70) scale(0.9400,1)" font-family="Liberation Sans" font-size="26.81" font-weight="normal" fill="#000" stroke="#000" stroke-width="0.55">10.5</text>
<line x1="477.8" y1="1248.0" x2="486.6" y2="1248.0" stroke="#000" stroke-width="2.6" stroke-linecap="butt" />
<text transform="translate(414.33,1256.20) scale(0.9400,1)" font-family="Liberation Sans" font-size="26.81" font-weight="normal" fill="#000" stroke="#000" stroke-width="0.55">10.0</text>
<line x1="477.8" y1="1290.5" x2="486.6" y2="1290.5" stroke="#000" stroke-width="2.6" stroke-linecap="butt" />
<text transform="translate(428.38,1298.70) scale(0.9400,1)" font-family="Liberation Sans" font-size="26.81" font-weight="normal" fill="#000" stroke="#000" stroke-width="0.55">9.5</text>
<line x1="477.8" y1="1333.0" x2="486.6" y2="1333.0" stroke="#000" stroke-width="2.6" stroke-linecap="butt" />
<text transform="translate(428.32,1341.20) scale(0.9400,1)" font-family="Liberation Sans" font-size="26.81" font-weight="normal" fill="#000" stroke="#000" stroke-width="0.55">9.0</text>
<line x1="477.8" y1="1375.5" x2="486.6" y2="1375.5" stroke="#000" stroke-width="2.6" stroke-linecap="butt" />
<text transform="translate(428.38,1383.70) scale(0.9400,1)" font-family="Liberation Sans" font-size="26.81" font-weight="normal" fill="#000" stroke="#000" stroke-width="0.55">8.5</text>
<line x1="477.8" y1="1418.0" x2="486.6" y2="1418.0" stroke="#000" stroke-width="2.6" stroke-linecap="butt" />
<text transform="translate(428.32,1426.20) scale(0.9400,1)" font-family="Liberation Sans" font-size="26.81" font-weight="normal" fill="#000" stroke="#000" stroke-width="0.55">8.0</text>
<g transform="translate(399.30,1366.90) rotate(-90)">
<text transform="translate(-1.68,0.00) scale(0.8377,1)" font-family="Liberation Sans" font-size="29.67" font-weight="bold" fill="#000">M</text>
</g>
<g transform="translate(405.90,1344.70) rotate(-90)">
<text transform="translate(-1.19,0.00) scale(1.0225,1)" font-family="Liberation Sans" font-size="17.86" font-weight="bold" fill="#000">max</text>
</g>
<g transform="translate(399.30,1299.00) rotate(-90)">
<text transform="translate(-1.98,0.00) scale(0.9553,1)" font-family="Liberation Sans" font-size="29.67" font-weight="bold" fill="#000">latency (ms)</text>
</g>
<line x1="538.9" y1="1283.6" x2="647.6" y2="1266" stroke="#415a26" stroke-width="3.2" stroke-linecap="butt" />
<line x1="538.9" y1="1283.6" x2="538.9" y2="1265.3" stroke="#415a26" stroke-width="3.2" stroke-linecap="butt" />
<line x1="533.1" y1="1265.3" x2="544.6999999999999" y2="1265.3" stroke="#415a26" stroke-width="3" stroke-linecap="butt" />
<line x1="647.6" y1="1266" x2="647.6" y2="1246.7" stroke="#415a26" stroke-width="3.2" stroke-linecap="butt" />
<line x1="641.8000000000001" y1="1246.7" x2="653.4" y2="1246.7" stroke="#415a26" stroke-width="3" stroke-linecap="butt" />
<circle cx="538.9" cy="1283.6" r="8.6" fill="#fff" stroke="#415a26" stroke-width="3.8"/>
<circle cx="647.6" cy="1266" r="8.6" fill="#fff" stroke="#415a26" stroke-width="3.8"/>
<line x1="550.5" y1="1302.5" x2="659.2" y2="1278.6" stroke="#a80a0a" stroke-width="3.2" stroke-linecap="butt" />
<line x1="550.5" y1="1302.5" x2="550.5" y2="1312.5" stroke="#a80a0a" stroke-width="3.2" stroke-linecap="butt" />
<line x1="544.7" y1="1312.5" x2="556.3" y2="1312.5" stroke="#a80a0a" stroke-width="3" stroke-linecap="butt" />
<line x1="659.2" y1="1278.6" x2="659.2" y2="1294.2" stroke="#a80a0a" stroke-width="3.2" stroke-linecap="butt" />
<line x1="653.4000000000001" y1="1294.2" x2="665.0" y2="1294.2" stroke="#a80a0a" stroke-width="3" stroke-linecap="butt" />
<circle cx="550.5" cy="1302.5" r="10.4" fill="#a80a0a"/>
<circle cx="659.2" cy="1278.6" r="10.4" fill="#a80a0a"/>
<path d="M538.9,1452.3 V1445.2 H638.6 V1452.3" fill="none" stroke="#000" stroke-width="2.6"/>
<text transform="translate(499.58,1492.50) scale(1.0142,1)" font-family="Liberation Sans" font-size="25.10" font-weight="bold" fill="#000">Before</text>
<text transform="translate(615.36,1492.50) scale(1.0241,1)" font-family="Liberation Sans" font-size="25.10" font-weight="bold" fill="#000">After</text>
<text transform="translate(746.68,1056.50) scale(1.2744,1)" font-family="Liberation Sans" font-size="38.55" font-weight="bold" fill="#000">I</text>
<line x1="853" y1="1085.8999999999999" x2="853" y2="1425.7" stroke="#000" stroke-width="2.6"/>
<line x1="845.5" y1="1087.1" x2="854.3" y2="1087.1" stroke="#000" stroke-width="2.6" stroke-linecap="butt" />
<text transform="translate(781.63,1095.30) scale(0.9400,1)" font-family="Liberation Sans" font-size="26.81" font-weight="normal" fill="#000" stroke="#000" stroke-width="0.55">42.0</text>
<line x1="845.5" y1="1129.2749999999999" x2="854.3" y2="1129.2749999999999" stroke="#000" stroke-width="2.6" stroke-linecap="butt" />
<text transform="translate(780.99,1137.47) scale(0.9400,1)" font-family="Liberation Sans" font-size="27.20" font-weight="normal" fill="#000" stroke="#000" stroke-width="0.55">41.5</text>
<line x1="845.5" y1="1171.4499999999998" x2="854.3" y2="1171.4499999999998" stroke="#000" stroke-width="2.6" stroke-linecap="butt" />
<text transform="translate(781.63,1179.65) scale(0.9400,1)" font-family="Liberation Sans" font-size="26.81" font-weight="normal" fill="#000" stroke="#000" stroke-width="0.55">41.0</text>
<line x1="845.5" y1="1213.625" x2="854.3" y2="1213.625" stroke="#000" stroke-width="2.6" stroke-linecap="butt" />
<text transform="translate(781.69,1221.83) scale(0.9400,1)" font-family="Liberation Sans" font-size="26.81" font-weight="normal" fill="#000" stroke="#000" stroke-width="0.55">40.5</text>
<line x1="845.5" y1="1255.8" x2="854.3" y2="1255.8" stroke="#000" stroke-width="2.6" stroke-linecap="butt" />
<text transform="translate(781.63,1264.00) scale(0.9400,1)" font-family="Liberation Sans" font-size="26.81" font-weight="normal" fill="#000" stroke="#000" stroke-width="0.55">40.0</text>
<line x1="845.5" y1="1297.975" x2="854.3" y2="1297.975" stroke="#000" stroke-width="2.6" stroke-linecap="butt" />
<text transform="translate(781.69,1306.17) scale(0.9400,1)" font-family="Liberation Sans" font-size="26.81" font-weight="normal" fill="#000" stroke="#000" stroke-width="0.55">39.5</text>
<line x1="845.5" y1="1340.15" x2="854.3" y2="1340.15" stroke="#000" stroke-width="2.6" stroke-linecap="butt" />
<text transform="translate(781.63,1348.35) scale(0.9400,1)" font-family="Liberation Sans" font-size="26.81" font-weight="normal" fill="#000" stroke="#000" stroke-width="0.55">39.0</text>
<line x1="845.5" y1="1382.325" x2="854.3" y2="1382.325" stroke="#000" stroke-width="2.6" stroke-linecap="butt" />
<text transform="translate(781.69,1390.53) scale(0.9400,1)" font-family="Liberation Sans" font-size="26.81" font-weight="normal" fill="#000" stroke="#000" stroke-width="0.55">38.5</text>
<line x1="845.5" y1="1424.5" x2="854.3" y2="1424.5" stroke="#000" stroke-width="2.6" stroke-linecap="butt" />
<text transform="translate(781.63,1432.70) scale(0.9400,1)" font-family="Liberation Sans" font-size="26.81" font-weight="normal" fill="#000" stroke="#000" stroke-width="0.55">38.0</text>
<g transform="translate(759.30,1368.70) rotate(-90)">
<text transform="translate(-0.21,0.00) scale(0.9593,1)" font-family="Liberation Sans" font-size="29.24" font-weight="bold" fill="#000">V</text>
</g>
<g transform="translate(766.20,1349.50) rotate(-90)">
<text transform="translate(-0.65,0.00) scale(0.9546,1)" font-family="Liberation Sans" font-size="19.44" font-weight="bold" fill="#000">sup</text>
</g>
<g transform="translate(759.30,1307.40) rotate(-90)">
<text transform="translate(-1.98,0.00) scale(0.9672,1)" font-family="Liberation Sans" font-size="29.24" font-weight="bold" fill="#000">latency (ms)</text>
</g>
<line x1="902.2" y1="1262.6" x2="1001.9" y2="1234.4" stroke="#415a26" stroke-width="3.2" stroke-linecap="butt" />
<line x1="902.2" y1="1262.6" x2="902.2" y2="1215.4" stroke="#415a26" stroke-width="3.2" stroke-linecap="butt" />
<line x1="896.4000000000001" y1="1215.4" x2="908.0" y2="1215.4" stroke="#415a26" stroke-width="3" stroke-linecap="butt" />
<line x1="1001.9" y1="1234.4" x2="1001.9" y2="1187.8" stroke="#415a26" stroke-width="3.2" stroke-linecap="butt" />
<line x1="996.1" y1="1187.8" x2="1007.6999999999999" y2="1187.8" stroke="#415a26" stroke-width="3" stroke-linecap="butt" />
<circle cx="902.2" cy="1262.6" r="8.6" fill="#fff" stroke="#415a26" stroke-width="3.8"/>
<circle cx="1001.9" cy="1234.4" r="8.6" fill="#fff" stroke="#415a26" stroke-width="3.8"/>
<line x1="912.8" y1="1237.7" x2="1012.6" y2="1284.2" stroke="#a80a0a" stroke-width="3.2" stroke-linecap="butt" />
<line x1="912.8" y1="1237.7" x2="912.8" y2="1282.6" stroke="#a80a0a" stroke-width="3.2" stroke-linecap="butt" />
<line x1="907.0" y1="1282.6" x2="918.5999999999999" y2="1282.6" stroke="#a80a0a" stroke-width="3" stroke-linecap="butt" />
<line x1="1012.6" y1="1284.2" x2="1012.6" y2="1327.5" stroke="#a80a0a" stroke-width="3.2" stroke-linecap="butt" />
<line x1="1006.8000000000001" y1="1327.5" x2="1018.4" y2="1327.5" stroke="#a80a0a" stroke-width="3" stroke-linecap="butt" />
<circle cx="912.8" cy="1237.7" r="10.4" fill="#a80a0a"/>
<circle cx="1012.6" cy="1284.2" r="10.4" fill="#a80a0a"/>
<text transform="translate(992.77,1375.65) scale(0.8207,1)" font-family="Liberation Serif" font-size="35.23" font-weight="bold" fill="#000">*</text>
<text transform="translate(1018.44,1374.00) scale(0.9068,1)" font-family="Liberation Serif" font-size="35.57" font-weight="normal" fill="#000">#</text>
<path d="M905.2,1452.3 V1445.2 H1006 V1452.3" fill="none" stroke="#000" stroke-width="2.6"/>
<text transform="translate(866.28,1492.50) scale(1.0129,1)" font-family="Liberation Sans" font-size="25.10" font-weight="bold" fill="#000">Before</text>
<text transform="translate(981.96,1492.50) scale(1.0276,1)" font-family="Liberation Sans" font-size="25.10" font-weight="bold" fill="#000">After</text>
<text transform="translate(1104.62,1057.20) scale(1.0401,1)" font-family="Liberation Sans" font-size="37.24" font-weight="bold" fill="#000">J</text>
<line x1="1210.6" y1="1085.8999999999999" x2="1210.6" y2="1426.7" stroke="#000" stroke-width="2.6"/>
<line x1="1203.1" y1="1087.1" x2="1211.8999999999999" y2="1087.1" stroke="#000" stroke-width="2.6" stroke-linecap="butt" />
<text transform="translate(1154.22,1095.30) scale(0.9400,1)" font-family="Liberation Sans" font-size="26.81" font-weight="normal" fill="#000" stroke="#000" stroke-width="0.55">5.0</text>
<line x1="1203.1" y1="1120.9399999999998" x2="1211.8999999999999" y2="1120.9399999999998" stroke="#000" stroke-width="2.6" stroke-linecap="butt" />
<text transform="translate(1154.40,1129.14) scale(0.9400,1)" font-family="Liberation Sans" font-size="26.81" font-weight="normal" fill="#000" stroke="#000" stroke-width="0.55">4.9</text>
<line x1="1203.1" y1="1154.78" x2="1211.8999999999999" y2="1154.78" stroke="#000" stroke-width="2.6" stroke-linecap="butt" />
<text transform="translate(1154.34,1162.98) scale(0.9400,1)" font-family="Liberation Sans" font-size="26.81" font-weight="normal" fill="#000" stroke="#000" stroke-width="0.55">4.8</text>
<line x1="1203.1" y1="1188.62" x2="1211.8999999999999" y2="1188.62" stroke="#000" stroke-width="2.6" stroke-linecap="butt" />
<text transform="translate(1154.04,1196.82) scale(0.9400,1)" font-family="Liberation Sans" font-size="27.20" font-weight="normal" fill="#000" stroke="#000" stroke-width="0.55">4.7</text>
<line x1="1203.1" y1="1222.46" x2="1211.8999999999999" y2="1222.46" stroke="#000" stroke-width="2.6" stroke-linecap="butt" />
<text transform="translate(1154.34,1230.66) scale(0.9400,1)" font-family="Liberation Sans" font-size="26.81" font-weight="normal" fill="#000" stroke="#000" stroke-width="0.55">4.6</text>
<line x1="1203.1" y1="1256.3" x2="1211.8999999999999" y2="1256.3" stroke="#000" stroke-width="2.6" stroke-linecap="butt" />
<text transform="translate(1153.78,1264.50) scale(0.9400,1)" font-family="Liberation Sans" font-size="27.20" font-weight="normal" fill="#000" stroke="#000" stroke-width="0.55">4.5</text>
<line x1="1203.1" y1="1290.1399999999999" x2="1211.8999999999999" y2="1290.1399999999999" stroke="#000" stroke-width="2.6" stroke-linecap="butt" />
<text transform="translate(1153.46,1298.34) scale(0.9400,1)" font-family="Liberation Sans" font-size="27.20" font-weight="normal" fill="#000" stroke="#000" stroke-width="0.55">4.4</text>
<line x1="1203.1" y1="1323.98" x2="1211.8999999999999" y2="1323.98" stroke="#000" stroke-width="2.6" stroke-linecap="butt" />
<text transform="translate(1154.34,1332.18) scale(0.9400,1)" font-family="Liberation Sans" font-size="26.81" font-weight="normal" fill="#000" stroke="#000" stroke-width="0.55">4.3</text>
<line x1="1203.1" y1="1357.82" x2="1211.8999999999999" y2="1357.82" stroke="#000" stroke-width="2.6" stroke-linecap="butt" />
<text transform="translate(1154.53,1366.02) scale(0.9400,1)" font-family="Liberation Sans" font-size="26.81" font-weight="normal" fill="#000" stroke="#000" stroke-width="0.55">4.2</text>
<line x1="1203.1" y1="1391.6599999999999" x2="1211.8999999999999" y2="1391.6599999999999" stroke="#000" stroke-width="2.6" stroke-linecap="butt" />
<text transform="translate(1153.97,1399.86) scale(0.9400,1)" font-family="Liberation Sans" font-size="27.20" font-weight="normal" fill="#000" stroke="#000" stroke-width="0.55">4.1</text>
<line x1="1203.1" y1="1425.5" x2="1211.8999999999999" y2="1425.5" stroke="#000" stroke-width="2.6" stroke-linecap="butt" />
<text transform="translate(1154.22,1433.70) scale(0.9400,1)" font-family="Liberation Sans" font-size="26.81" font-weight="normal" fill="#000" stroke="#000" stroke-width="0.55">4.0</text>
<g transform="translate(1123.80,1394.60) rotate(-90)">
<text transform="translate(-1.67,0.00) scale(0.9808,1)" font-family="Liberation Sans" font-size="25.16" font-weight="bold" fill="#000">H</text>
</g>
<g transform="translate(1129.90,1376.80) rotate(-90)">
<text transform="translate(-1.10,0.00) scale(1.0246,1)" font-family="Liberation Sans" font-size="16.56" font-weight="bold" fill="#000">max</text>
</g>
<g transform="translate(1123.80,1337.10) rotate(-90)">
<text transform="translate(-0.27,0.00) scale(1.0803,1)" font-family="Liberation Sans" font-size="25.16" font-weight="bold" fill="#000">/</text>
</g>
<g transform="translate(1123.80,1321.20) rotate(-90)">
<text transform="translate(-1.62,0.00) scale(0.9538,1)" font-family="Liberation Sans" font-size="25.16" font-weight="bold" fill="#000">M</text>
</g>
<g transform="translate(1129.90,1299.30) rotate(-90)">
<text transform="translate(-1.12,0.00) scale(1.0434,1)" font-family="Liberation Sans" font-size="16.56" font-weight="bold" fill="#000">max</text>
</g>
<g transform="translate(1123.80,1259.10) rotate(-90)">
<text transform="translate(-1.80,0.00) scale(1.0192,1)" font-family="Liberation Sans" font-size="25.16" font-weight="bold" fill="#000">latency ratio</text>
</g>
<line x1="1260.8" y1="1289.9" x2="1362.9" y2="1323.1" stroke="#415a26" stroke-width="3.2" stroke-linecap="butt" />
<line x1="1260.8" y1="1289.9" x2="1260.8" y2="1325.8" stroke="#415a26" stroke-width="3.2" stroke-linecap="butt" />
<line x1="1255.0" y1="1325.8" x2="1266.6" y2="1325.8" stroke="#415a26" stroke-width="3" stroke-linecap="butt" />
<line x1="1362.9" y1="1323.1" x2="1362.9" y2="1364" stroke="#415a26" stroke-width="3.2" stroke-linecap="butt" />
<line x1="1357.1000000000001" y1="1364" x2="1368.7" y2="1364" stroke="#415a26" stroke-width="3" stroke-linecap="butt" />
<circle cx="1260.8" cy="1289.9" r="8.6" fill="#fff" stroke="#415a26" stroke-width="3.8"/>
<circle cx="1362.9" cy="1323.1" r="8.6" fill="#fff" stroke="#415a26" stroke-width="3.8"/>
<line x1="1270.8" y1="1255.3" x2="1372.2" y2="1322.5" stroke="#a80a0a" stroke-width="3.2" stroke-linecap="butt" />
<line x1="1270.8" y1="1255.3" x2="1270.8" y2="1220" stroke="#a80a0a" stroke-width="3.2" stroke-linecap="butt" />
<line x1="1265.0" y1="1220" x2="1276.6" y2="1220" stroke="#a80a0a" stroke-width="3" stroke-linecap="butt" />
<line x1="1372.2" y1="1322.5" x2="1372.2" y2="1285.2" stroke="#a80a0a" stroke-width="3.2" stroke-linecap="butt" />
<line x1="1366.4" y1="1285.2" x2="1378.0" y2="1285.2" stroke="#a80a0a" stroke-width="3" stroke-linecap="butt" />
<circle cx="1270.8" cy="1255.3" r="10.4" fill="#a80a0a"/>
<circle cx="1372.2" cy="1322.5" r="10.4" fill="#a80a0a"/>
<text transform="translate(1364.51,1273.78) scale(0.7959,1)" font-family="Liberation Serif" font-size="38.15" font-weight="bold" fill="#000">*</text>
<path d="M1262.5,1452.3 V1445.2 H1362.9 V1452.3" fill="none" stroke="#000" stroke-width="2.6"/>
<text transform="translate(1223.28,1492.50) scale(1.0129,1)" font-family="Liberation Sans" font-size="25.10" font-weight="bold" fill="#000">Before</text>
<text transform="translate(1338.97,1492.50) scale(1.0102,1)" font-family="Liberation Sans" font-size="25.10" font-weight="bold" fill="#000">After</text>
</svg></body></html>
